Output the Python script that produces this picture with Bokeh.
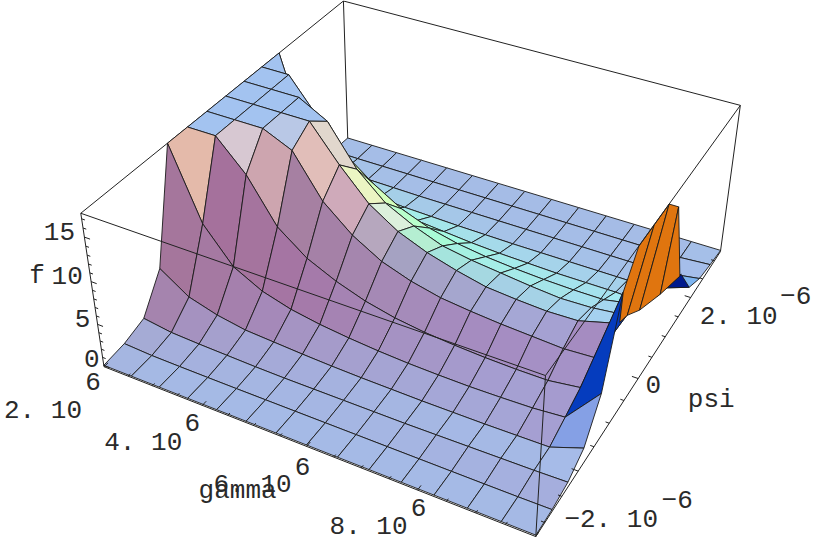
import numpy as np
from bokeh.plotting import figure
from bokeh.models import ColumnDataSource
from bokeh.core.properties import value
from bokeh.embed import file_html
from bokeh.resources import INLINE

# ---------- data: f(gamma, psi) on a 15 x 15 grid; one list per psi row ----------
gamma_min, gamma_max = 2e6, 1e7
psi_min, psi_max = -3.26e-6, 3.26e-6
f_min, f_max = -0.15, 17.6

f_row_00 = [0.02] * 15
f_row_01 = [.3, .12, .08, .06, .05, .05, .05, .05, .05, .05, .05, .05, .05, .06, .1]
f_row_02 = [1.1, .6, .45, .35, .25, .2, .2, .2, .2, .2, .25, .3, .35, .4, .5]
f_row_03 = [5.0, 2.7, 1.7, 1.1, .9, .7, .55, .45, .4, .35, .35, .35, .4, .45, 1.8]
f_row_04 = [18, 9.4, 5.4, 3.6, 2.6, 2, 1.6, 1.3, 1.1, 1, .95, 1, 1.1, 1.4, 5.6]
f_row_05 = [18, 18, 14.2, 9.2, 6.6, 5, 3.8, 3.0, 2.5, 2.2, 2.0, 1.9, 1.9, 2.4, 14.6]
f_row_06 = [18, 18, 18, 16.1, 11.3, 8.4, 6.4, 5.2, 4.4, 4, 3.7, 3.5, 3.3, 3.5, 10.9]
f_row_07 = [18, 18, 18, 18, 13.6, 10.1, 7.9, 6.5, 5.5, 4.7, 4.4, 4.2, 4.3, 5.3, 9.2]
f_row_08 = [18, 18, 18, 15.8, 11.2, 8.2, 6.5, 5.2, 4.6, 4.2, 3.8, 3.5, 3.6, 4.0, 7.5]
f_row_09 = [18, 18, 13.6, 10, 7.5, 5.5, 4.2, 3.4, 2.9, 2.6, 2.4, 2.3, 2.3, 3.0, 6.5]
f_row_10 = [18, 7, 4, 3, 2.4, 2, 1.7, 1.4, 1.2, 1.1, 1, 1, 1, .8, 5.6]
f_row_11 = [3, 1.5, 1, .8, .6, .5, .4, .35, .3, .3, .3, .3, .3, .5, 1.8]
f_row_12 = [.5, .3, .2, .15, .1, .1, .1, .1, .1, .1, .1, .1, .1, .15, .7]
f_row_13 = [.1, .05, .05, .05, .03, .03, .03, .03, .03, .03, .03, .03, .03, .05, .3]
f_row_14 = [0.0] * 15
f_rows = [f_row_00, f_row_01, f_row_02, f_row_03, f_row_04, f_row_05, f_row_06, f_row_07,
          f_row_08, f_row_09, f_row_10, f_row_11, f_row_12, f_row_13, f_row_14]

# spike at the far gamma end: psi row index and f along its two boundaries
spike_low_row = [4.94, 5.5, 6.5, 8.2, 9.9]
spike_low_f = [11.4, 10.9, 9.2, 7.2, 5.6]
spike_top_row = [5.0, 5.9, 7.0, 8.1, 9.0]
spike_top_f = [14.6, 18, 18, 18, 15.5]

gamma_ticks = [2e6, 4e6, 6e6, 8e6]
psi_ticks = [-2e-6, 0.0, 2e-6]
f_ticks = [0, 5, 10, 15]

TOP_BLUE = "#a3c3f0"
CELL_COLORS = {(2, 13): "#a6bbe8", (3, 13): "#85a0e5", (4, 13): "#053cbe", (5, 13): "#053cbe", (10, 13): "#001a8c",
               (11, 13): "#7db4f0", (9, 0): TOP_BLUE, (8, 1): TOP_BLUE, (7, 2): TOP_BLUE,
               (4, 0): "#e4baaa", (5, 1): "#d7c8d2", (6, 2): "#b9c8e6", (6, 3): "#e1beb9", (7, 3): "#e1d7cd",
               (5, 2): "#cda5af", (7, 4): "#ebf5c3", (7, 5): "#dcf0dc"}

# ---------- camera: projective map of the unit box, fitted to its eight corners ----------
BOX_CORNERS = {(0, 0, 0): (104, 367), (1, 0, 0): (535, 536), (0, 1, 0): (347, 138), (1, 1, 0): (720, 251),
               (0, 0, 1): (80, 212), (1, 0, 1): (545, 375), (0, 1, 1): (343, 1), (1, 1, 1): (740, 105)}
A, b = [], []
for (X, Y, Z), (sx, sy) in BOX_CORNERS.items():
    A.append([X, Y, Z, 1, 0, 0, 0, 0, -sx * X, -sx * Y, -sx * Z]); b.append(sx)
    A.append([0, 0, 0, 0, X, Y, Z, 1, -sy * X, -sy * Y, -sy * Z]); b.append(sy)
P = np.append(np.linalg.lstsq(np.array(A, float), np.array(b, float), rcond=None)[0], 1.0).reshape(3, 4)


def project(u, v, w):
    h = P @ np.array([u, v, w, 1.0])
    return h[0] / h[2], h[1] / h[2]


def wf(f):
    return (min(f, f_max) - f_min) / (f_max - f_min)


# ---------- lighting: response of each channel to the facet normal ----------
BOX_Z = 0.4


def shade(pts):
    p = np.array(pts, float)
    p[:, 2] *= BOX_Z
    n = np.cross(p[2] - p[0], p[3] - p[1])
    if n[2] < 0:
        n = -n
    n = n / (np.linalg.norm(n) + 1e-12)
    if abs(n[2] - 1) < 1e-9 and p[0, 2] > .39:
        return TOP_BLUE
    nx, ny = n[0], n[1]
    red = max(.65, .40 + .72 * (nx + .18 * ny))
    green = .735 + .15 * nx + .40 * ny
    blue = .905 - .08 * nx + (.3 if ny < 0 else .08) * ny - .6 * max(0, nx * ny)
    rgb = [min(1, max(0, c)) for c in (red, green, blue)]
    return "#%02x%02x%02x" % tuple(int(v * 255) for v in rgb)


xs, ys, cols = [], [], []
for r in range(13, -1, -1):
    for c in range(14):
        q = [(c / 14, r / 14, wf(f_rows[r][c])), ((c + 1) / 14, r / 14, wf(f_rows[r][c + 1])),
             ((c + 1) / 14, (r + 1) / 14, wf(f_rows[r + 1][c + 1])), (c / 14, (r + 1) / 14, wf(f_rows[r + 1][c]))]
        sc = [project(*t) for t in q]
        xs.append([s[0] for s in sc]); ys.append([s[1] for s in sc])
        cols.append(CELL_COLORS.get((r, c), shade(q)))

p = figure(width=817, height=556, x_range=(0, 817), y_range=(556, 0), output_backend="svg",
           toolbar_location=None, min_border=0)
p.axis.visible = False
p.grid.visible = False
p.outline_line_color = None


def box_line(a, b_, width=1.0):
    pa, pb = project(*a), project(*b_)
    p.line([pa[0], pb[0]], [pa[1], pb[1]], line_color="#222222", line_width=width)


for a, b_ in [((0, 1, 0), (0, 1, 1)), ((0, 1, 1), (0, 0, 1)), ((0, 1, 1), (1, 1, 1)), ((1, 1, 0), (1, 1, 1))]:
    box_line(a, b_)

p.patches(xs, ys, fill_color=cols, line_color="#1a1a1a", line_width=0.9)

# spike polygons
sl = [project(1, r / 14, wf(f)) for r, f in zip(spike_low_row, spike_low_f)]
st = [project(1, r / 14, wf(f)) for r, f in zip(spike_top_row, spike_top_f)]
spike_polys = [[sl[0], sl[1], st[2], st[1], st[0]], [sl[1], sl[2], st[3], st[2]],
               [sl[2], sl[3], st[4], st[3]], [sl[3], sl[4], st[4]]]
p.patches([[q[0] for q in poly] for poly in spike_polys], [[q[1] for q in poly] for poly in spike_polys],
          fill_color="#e0750f", line_color="#1a1a1a", line_width=0.9)

for a, b_ in [((0, 0, 1), (1, 0, 1)), ((1, 0, 1), (1, 1, 1)), ((1, 0, 1), (1, 0, 0)),
              ((0, 0, 0), (0, 0, 1)), ((0, 0, 0), (1, 0, 0)), ((1, 0, 0), (1, 1, 0))]:
    box_line(a, b_)


def gu(g):
    return (g - gamma_min) / (gamma_max - gamma_min)


def pv(s):
    return (s - psi_min) / (psi_max - psi_min)


for g in np.arange(gamma_min, gamma_max + 1, 5e5):
    major = abs((g / 2e6) - round(g / 2e6)) < 1e-9
    box_line((gu(g), 0, 0), (gu(g), .014 if major else .008, 0))
for s in np.arange(-3e-6, 3.01e-6, 5e-7):
    major = abs((s / 2e-6) - round(s / 2e-6)) < 1e-6
    box_line((1, pv(s), 0), (1 - (.014 if major else .008), pv(s), 0))
for f in range(0, 18):
    box_line((0, 0, wf(f)), (.014 if f % 5 == 0 else .008, 0, wf(f)))

# ---------- texts, anchored at the projected ticks ----------
labels = []
for g, t, off, e_off in zip(gamma_ticks, ["2. 10", "4. 10", "6. 10", "8. 10"],
                            [(-61, 44), (-59, 38), (-54, 39), (-49, 37)],
                            [(-11, 15), (-10, 17), (-4, 20), (1, 17)]):
    a = project(gu(g), 0, 0)
    labels.append((a, t, off)); labels.append((a, "6", e_off))
for s, t, off, e in zip(psi_ticks, ["−2. 10", "0", "2. 10"], [(33, 49), (15, 6), (48, 19)],
                        [("−6", (99, 28)), None, ("−6", (105, -2))]):
    a = project(1, pv(s), 0)
    labels.append((a, t, off))
    if e:
        labels.append((a, e[0], e[1]))
for f, off in zip(f_ticks, [(-12, -7), (-15, -6), (-24, -6), (-25, -6)]):
    labels.append((project(0, 0, wf(f)), str(f), off))
labels.append((project(gu(6e6), 0, 0), "gamma", (-69, 45)))
labels.append((project(1, pv(0.0), 0), "psi", (73, 21)))
labels.append((project(0, 0, wf(10)), "f", (-54, -6)))

src = ColumnDataSource(dict(x=[l[0][0] for l in labels], y=[l[0][1] for l in labels], t=[l[1] for l in labels],
                            xo=[l[2][0] for l in labels], yo=[l[2][1] for l in labels]))
p.text("x", "y", text="t", source=src, x_offset="xo", y_offset="yo", text_align="center", text_baseline="middle",
       text_font=value("Liberation Mono"), text_font_size="26px", text_color="#2a2a2a")

open("out.html", "w").write(file_html(p, INLINE))
